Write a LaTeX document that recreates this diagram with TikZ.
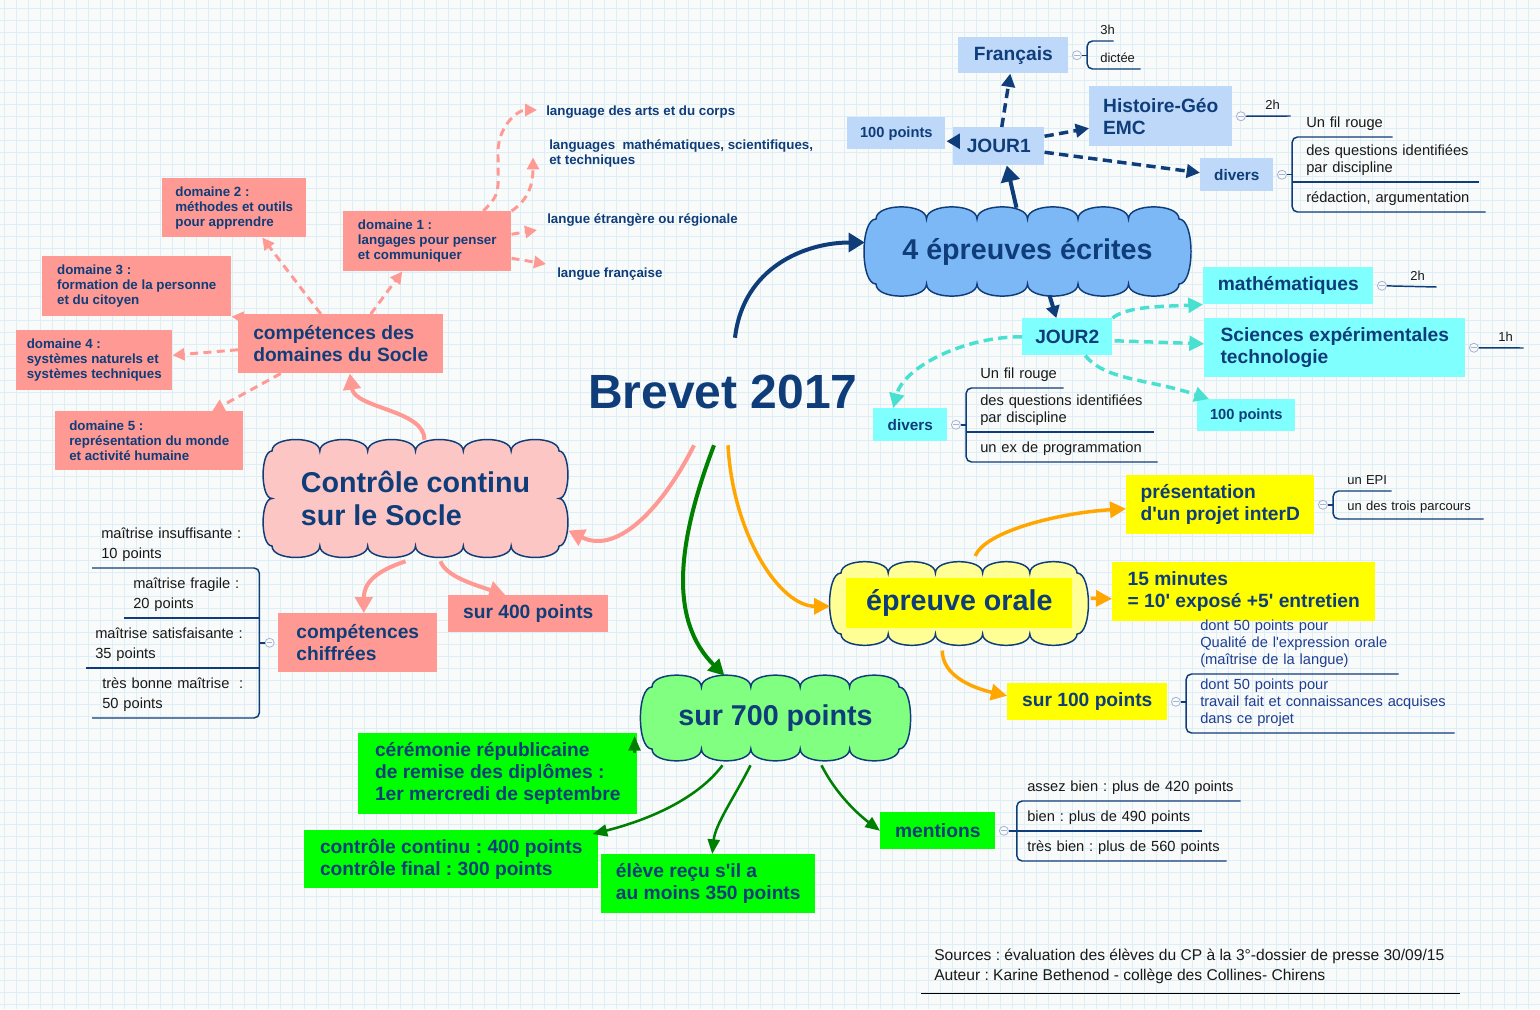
\documentclass[tikz,border=0pt]{standalone}
\usepackage{fontspec}
\setmainfont{Liberation Sans}
\usetikzlibrary{arrows.meta, positioning, calc}

\definecolor{navy}{RGB}{14,61,122}
\definecolor{salc}{RGB}{255,153,148}
\definecolor{pinkc}{RGB}{252,198,196}
\definecolor{lblue}{RGB}{190,216,250}
\definecolor{ecritc}{RGB}{125,184,246}
\definecolor{cyanc}{RGB}{128,255,255}
\definecolor{turqc}{RGB}{72,224,208}
\definecolor{yelc}{RGB}{255,255,0}
\definecolor{paleyel}{RGB}{255,255,150}
\definecolor{grc}{RGB}{0,255,0}
\definecolor{palegr}{RGB}{128,255,128}
\definecolor{dkgreen}{RGB}{0,128,0}
\definecolor{orc}{RGB}{255,166,0}
\definecolor{leafc}{RGB}{25,25,25}
\definecolor{hblue}{RGB}{30,62,145}
\definecolor{circc}{RGB}{165,180,212}
\definecolor{gridc}{RGB}{222,238,246}
\definecolor{bgc}{RGB}{249,250,250}

\frenchspacing
\lefthyphenmin=64

% one unit = one pixel of the sketch
\def\px{*0.75pt}

% scalloped cloud: left, top, right, bottom, bumps across, bumps down, style
\newcommand\cloudshape[7]{%
  \pgfmathsetmacro\cbw{(#3-#1)/#5}%
  \pgfmathsetmacro\cbk{0.32*\cbw}%
  \pgfmathsetmacro\cbh{(#4-#2)/#6}%
  \pgfmathsetmacro\cbe{min(16,0.25*\cbh)}%
  \filldraw[#7] (#1,#2)
    \foreach \ci in {1,...,#5} { .. controls +(0,-\cbk) and +(0,-\cbk) .. ++(\cbw,0) }
    \foreach \ci in {1,...,#6} { .. controls +(\cbe,0) and +(\cbe,0) .. ++(0,\cbh) }
    \foreach \ci in {1,...,#5} { .. controls +(0,\cbk) and +(0,\cbk) .. ++(-\cbw,0) }
    \foreach \ci in {1,...,#6} { .. controls +(-\cbe,0) and +(-\cbe,0) .. ++(0,-\cbh) }
    -- cycle;
}

\tikzset{
  box/.style={anchor=north west, inner sep=0pt, align=left, text=navy},
  bx/.style 2 args={minimum width=#1\px, minimum height=#2\px},
  big/.style={font=\fontsize{14.4}{16.5}\selectfont\bfseries},
  mid/.style={font=\fontsize{11.5}{13}\selectfont\bfseries},
  dom/.style={font=\fontsize{10}{11.25}\selectfont\bfseries},
  cloudtxt/.style={font=\fontsize{21.5}{24.75}\selectfont\bfseries, text=navy, align=left, inner sep=0pt},
  cloudline/.style={draw=navy, line width=1.1pt},
  dleaf/.style={anchor=west, inner sep=0pt, align=left, text=navy, font=\fontsize{10}{11.25}\selectfont\bfseries},
  leaf/.style={anchor=south west, inner xsep=0pt, inner ysep=4.5pt, align=left, text=leafc, font=\fontsize{11}{12.75}\selectfont},
  leafsm/.style={leaf, font=\fontsize{9.75}{11}\selectfont},
  leafi/.style={leaf, font=\fontsize{11}{15}\selectfont},
  leafh/.style={leaf, text=hblue},
  minus/.style={circle, draw=circc, fill=bgc, line width=0.6pt, minimum size=6.75pt, inner sep=0pt,
    path picture={\draw[circc, line width=0.6pt] ([xshift=-2pt]path picture bounding box.center) -- ([xshift=2pt]path picture bounding box.center);}},
  uline/.style={draw=navy, line width=1.1pt},
  navyarr/.style={draw=navy, line width=3pt, -{Triangle[length=12pt,width=14pt]}},
  navydash/.style={draw=navy, line width=2.6pt, dash pattern=on 7pt off 4pt, -{Triangle[length=10pt,width=10pt]}},
  turq/.style={draw=turqc, line width=2.6pt, dash pattern=on 7pt off 4pt, -{Triangle[length=11pt,width=11pt]}},
  salarr/.style={draw=salc, line width=3pt, -{Triangle[length=12pt,width=13pt]}},
  saldash/.style={draw=salc, line width=2.2pt, dash pattern=on 6pt off 4pt, -{Triangle[length=9pt,width=9pt]}},
  grthin/.style={draw=dkgreen, line width=1.9pt, -{Triangle[length=11pt,width=9pt]}},
  grarr/.style={draw=dkgreen, line width=3pt, -{Triangle[length=12pt,width=12pt]}},
  orarr/.style={draw=orc, line width=2.6pt, -{Triangle[length=12pt,width=12pt]}},
}

\begin{document}
\begin{tikzpicture}[x=0.75pt, y=-0.75pt]

  % --- Paper ---
  \fill[bgc] (0,0) rectangle (1540,1009);
  \useasboundingbox (0,0) rectangle (1540,1009);
  \foreach \gx in {4,16,...,1540} \draw[gridc, line width=0.6pt] (\gx,0) -- (\gx,1009);
  \foreach \gy in {8,20,...,1009} \draw[gridc, line width=0.6pt] (0,\gy) -- (1540,\gy);

  % --- Title ---
  \node[font=\fontsize{36}{40}\selectfont\bfseries, text=navy, inner sep=0pt,
        minimum width=280\px, minimum height=107\px] (brevet) at (723,391.5) {Brevet 2017};

  % --- Clouds ---
  \cloudshape{876}{219}{1179}{284}{6}{1}{cloudline, fill=ecritc}
  \node[cloudtxt, minimum width=325\px, minimum height=87\px] (ecrites) at (1027.5,251.5) {4 épreuves écrites};

  \cloudshape{272}{451}{559}{546}{6}{2}{cloudline, fill=pinkc}
  \node[cloudtxt, minimum width=305\px, minimum height=117\px] (controle) at (415.5,498.5) {Contrôle continu\\sur le Socle};

  \cloudshape{841}{573}{1077}{634}{5}{1}{cloudline, fill=paleyel}
  \node[box, bx={226}{50}, fill=yelc, font=\fontsize{21.5}{24.75}\selectfont\bfseries] (orale) at (846,578) {épreuve orale};

  \cloudshape{652}{687}{899}{749}{5}{1}{cloudline, fill=palegr}
  \node[cloudtxt, minimum width=269\px, minimum height=84\px] (s700) at (775.5,718) {sur 700 points};

  % --- JOUR1 ---
  \node[box, bx={110}{36}, fill=lblue, big] (fr) at (958,37) {Français};
  \node[box, bx={143}{60}, fill=lblue, big] (hist) at (1089,86) {Histoire-Géo\\EMC};
  \node[box, bx={91}{38}, fill=lblue, big] (jour1) at (953,127) {JOUR1};
  \node[box, bx={98}{32}, fill=lblue, font=\fontsize{11}{13}\selectfont\bfseries] (cent1) at (847,117) {100 points};
  \node[box, bx={73}{33}, fill=lblue, mid] (div1) at (1200,158) {divers};

  % --- JOUR2 ---
  \node[box, bx={170}{37}, fill=cyanc, big] (math) at (1203,267) {mathématiques};
  \node[box, bx={90}{37}, fill=cyanc, big] (jour2) at (1022,318) {JOUR2};
  \node[box, bx={261}{59}, fill=cyanc, big] (sci) at (1204,318) {Sciences expérimentales\\technologie};
  \node[box, bx={98}{32}, fill=cyanc, font=\fontsize{11}{13}\selectfont\bfseries] (cent2) at (1197,399) {100 points};
  \node[box, bx={74}{33}, fill=cyanc, mid] (div2) at (873,408) {divers};

  % --- Socle ---
  \node[box, bx={144}{59}, fill=salc, dom] (dom2) at (162,178) {domaine 2 :\\méthodes et outils\\pour apprendre};
  \node[box, bx={168}{60}, fill=salc, dom] (dom1) at (343,211) {domaine 1 :\\langages pour penser\\et communiquer};
  \node[box, bx={189}{60}, fill=salc, dom] (dom3) at (42,256) {domaine 3 :\\formation de la personne\\et du citoyen};
  \node[box, bx={156}{60}, fill=salc, dom] (dom4) at (16,330) {domaine 4 :\\systèmes naturels et\\systèmes techniques};
  \node[box, bx={188}{59}, fill=salc, dom] (dom5) at (55,411) {domaine 5 :\\représentation du monde\\et activité humaine};
  \node[box, bx={205}{59}, fill=salc, big] (compdom) at (238,314) {compétences des\\domaines du Socle};
  \node[box, bx={159}{59}, fill=salc, big] (compchif) at (278,613) {compétences\\chiffrées};
  \node[box, bx={160}{37}, fill=salc, big] (s400) at (448,595) {sur 400 points};

  \node[dleaf] (l1) at (546,112) {language des arts et du corps};
  \node[dleaf] (l2) at (549,153.5) {languages \ mathématiques, scientifiques,\\et techniques};
  \node[dleaf] (l3) at (547,220) {langue étrangère ou régionale};
  \node[dleaf] (l4) at (557,274) {langue française};

  % --- Oral ---
  \node[box, bx={188}{59}, fill=yelc, big] (pres) at (1126,475) {présentation\\d\textquotesingle un projet interD};
  \node[box, bx={263}{59}, fill=yelc, big] (min) at (1112,562) {15 minutes\\= 10\textquotesingle{} exposé +5\textquotesingle{} entretien};
  \node[box, bx={160}{37}, fill=yelc, big] (s100) at (1007,683) {sur 100 points};

  % --- 700 points ---
  \node[box, bx={279}{81}, fill=grc, big] (cer) at (358,733) {cérémonie républicaine\\de remise des diplômes :\\1er mercredi de septembre};
  \node[box, bx={294}{58}, fill=grc, big] (ctrl) at (304,830) {contrôle continu : 400 points\\contrôle final : 300 points};
  \node[box, bx={214}{59}, fill=grc, big] (eleve) at (601,854) {élève reçu s\textquotesingle il a\\au moins 350 points};
  \node[box, bx={115}{37}, fill=grc, big] (ment) at (880,812) {mentions};

  % --- Leaves ---
  \node[minus, right=2.6pt of fr] (mfr) {};
  \coordinate[right=4pt of mfr] (bfr);
  \node[leafsm, text width=13\px] (a1) at (1100,41) {3h};
  \node[leafsm, text width=40\px] (a2) at (1100,69) {dictée};
  \draw[uline, rounded corners=4pt] (a1.south east) -- (bfr |- a1.south) -- (bfr |- a2.south) -- (a2.south east);
  \draw[uline] (mfr) -- (bfr);

  \node[minus, right=2.6pt of hist] (mhist) {};
  \node[leafsm, text width=25\px] (b1) at (1265,116) {2h};
  \draw[uline] (mhist) -- (b1.south east);

  \node[minus, right=2.6pt of div1] (mdiv1) {};
  \coordinate[right=4pt of mdiv1] (bdiv1);
  \node[leaf, text width=86\px] (c1) at (1306,137) {Un fil rouge};
  \node[leaf, text width=172\px] (c2) at (1306,182) {des questions identifiées\\par discipline};
  \node[leaf, text width=179\px] (c3) at (1306,212) {rédaction, argumentation};
  \draw[uline, rounded corners=4pt] (c1.south east) -- (bdiv1 |- c1.south) -- (bdiv1 |- c3.south) -- (c3.south east);
  \draw[uline] (bdiv1 |- c2.south) -- (c2.south east);
  \draw[uline] (mdiv1) -- (bdiv1);

  \node[minus, right=2.6pt of math] (mmath) {};
  \node[leafsm, text width=26\px] (d1) at (1410,287) {2h};
  \draw[uline] (mmath) -- (d1.south east);

  \node[minus, right=2.6pt of sci] (msci) {};
  \node[leafsm, text width=25\px] (e1) at (1498,348) {1h};
  \draw[uline] (msci) -- (e1.south east);

  \node[minus, right=2.6pt of div2] (mdiv2) {};
  \coordinate[right=4pt of mdiv2] (bdiv2);
  \node[leaf, text width=83\px] (f1) at (980,388) {Un fil rouge};
  \node[leaf, text width=173\px] (f2) at (980,432) {des questions identifiées\\par discipline};
  \node[leaf, text width=177\px] (f3) at (980,462) {un ex de programmation};
  \draw[uline, rounded corners=4pt] (f1.south east) -- (bdiv2 |- f1.south) -- (bdiv2 |- f3.south) -- (f3.south east);
  \draw[uline] (bdiv2 |- f2.south) -- (f2.south east);
  \draw[uline] (mdiv2) -- (bdiv2);

  \node[minus, right=2.6pt of pres] (mpres) {};
  \coordinate[right=4pt of mpres] (bpres);
  \node[leafsm, text width=44\px] (g1) at (1347,491) {un EPI};
  \node[leafsm, text width=136\px] (g2) at (1347,519) {un des trois parcours};
  \draw[uline, rounded corners=4pt] (g1.south east) -- (bpres |- g1.south) -- (bpres |- g2.south) -- (g2.south east);
  \draw[uline] (mpres) -- (bpres);

  \node[minus, right=2.6pt of s100] (ms100) {};
  \coordinate[right=4pt of ms100] (bs100);
  \node[leafh, text width=198\px] (h1) at (1200,674) {dont 50 points pour\\Qualité de l\textquotesingle expression orale\\(maîtrise de la langue)};
  \node[leafh, text width=254\px] (h2) at (1200,733) {dont 50 points pour\\travail fait et connaissances acquises\\dans ce projet};
  \draw[uline, rounded corners=4pt] (h1.south east) -- (bs100 |- h1.south) -- (bs100 |- h2.south) -- (h2.south east);
  \draw[uline] (ms100) -- (bs100);

  \node[minus, left=2.6pt of compchif] (mchif) {};
  \coordinate[left=4pt of mchif] (bchif);
  \node[leafi, text width=155\px] (i1) at (101,568) {maîtrise insuffisante :\\10 points};
  \node[leafi, text width=123\px] (i2) at (133,618) {maîtrise fragile :\\20 points};
  \node[leafi, text width=161\px] (i3) at (95,668) {maîtrise satisfaisante :\\35 points};
  \node[leafi, text width=154\px] (i4) at (102,718) {très bonne maîtrise \ :\\50 points};
  \draw[uline, rounded corners=4pt] ($(i1.south west)+(-9,0)$) -- (bchif |- i1.south) -- (bchif |- i4.south) -- ($(i4.south west)+(-10,0)$);
  \draw[uline] ($(i2.south west)+(-9,0)$) -- (bchif |- i2.south);
  \draw[uline] ($(i3.south west)+(-9,0)$) -- (bchif |- i3.south);
  \draw[uline] (mchif) -- (bchif);

  \node[minus, right=2.6pt of ment] (mment) {};
  \coordinate[right=6pt of mment] (bment);
  \node[leaf, text width=213\px] (j1) at (1027,801) {assez bien : plus de 420 points};
  \node[leaf, text width=174\px] (j2) at (1027,831) {bien : plus de 490 points};
  \node[leaf, text width=199\px] (j3) at (1027,861) {très bien : plus de 560 points};
  \draw[uline, rounded corners=4pt] (j1.south east) -- (bment |- j1.south) -- (bment |- j3.south) -- (j3.south east);
  \draw[uline] (bment |- j2.south) -- (j2.south east);
  \draw[uline] (mment) -- (bment);

  % --- Sources ---
  \node[anchor=north west, inner sep=0pt, align=left, text=leafc, font=\fontsize{11.7}{15}\selectfont] (src) at (934,949)
    {Sources : évaluation des élèves du CP à la 3°-dossier de presse 30/09/15\\Auteur : Karine Bethenod - collège des Collines- Chirens};
  \draw[black, line width=0.75pt] ($(src.south west)+(-13,9)$) -- ++(539,0);

  % --- Edges from the title ---
  \draw[navyarr] ($(brevet.north)+(12,0)$) .. controls +(8,-70) and +(-60,0) .. ($(ecrites.west)+(0,-9)$);
  \draw[salarr] ($(brevet.south)+(-29,0)$) .. controls +(-30,60) and +(50,25) .. ($(controle.east)+(0,32)$);
  \draw[grarr] ($(brevet.south)+(-9,0)$) .. controls +(-38,100) and +(-55,-55) .. ($(s700.north)+(-51,0)$);
  \draw[orarr] ($(brevet.south)+(5,0)$) .. controls +(5,90) and +(-50,0) .. ($(orale.west)+(-16,3)$);

  % --- Written exams ---
  \draw[navyarr] ($(ecrites.north)+(-11,0)$) -- ($(jour1.south)+(8,0)$);
  \draw[navyarr, -{Triangle[length=9pt,width=10pt]}] ($(ecrites.south)+(22,0)$) -- ($(jour2.north)+(-11,0)$);
  \draw[navydash] ($(jour1.north)+(3,0)$) -- ($(fr.south)+(-3,0)$);
  \draw[navydash] ($(jour1.east)+(0,-10)$) -- ($(hist.west)+(0,12)$);
  \draw[navydash] ($(jour1.east)+(0,6)$) -- ($(div1.west)+(0,-2)$);
  \draw[navyarr, -{Triangle[length=10pt,width=11pt]}] ($(jour1.west)+(7,-5)$) -- ($(cent1.east)+(1,8)$);

  \draw[turq] (jour2.north east) .. controls +(15,-12) and +(-40,2) .. (math.south west);
  \draw[turq] ($(jour2.east)+(2,4)$) -- ($(sci.west)+(0,-4)$);
  \draw[turq] ($(jour2.south)+(18,0)$) .. controls +(20,25) and +(-60,-20) .. ($(cent2.north west)+(12,0)$);
  \draw[turq] (jour2.west) .. controls +(-60,0) and +(10,-40) .. ($(div2.north)+(-17,0)$);

  % --- Socle ---
  \draw[salarr] ($(controle.north)+(9,0)$) .. controls +(0,-30) and +(5,35) .. ($(compdom.south)+(9,0)$);
  \draw[salarr] ($(controle.south)+(-10,4)$) .. controls +(-30,10) and +(0,-30) .. ($(compchif.north)+(6,0)$);
  \draw[salarr] ($(controle.south)+(25,4)$) .. controls +(5,15) and +(-30,-10) .. ($(s400.north)+(-23,0)$);

  \draw[saldash] ($(compdom.north)+(-20,0)$) -- ($(dom2.south)+(28,0)$);
  \draw[saldash] ($(compdom.north)+(30,0)$) -- ($(dom1.south)+(-25,0)$);
  \draw[saldash] ($(compdom.north west)+(8,4)$) -- (dom3.south east);
  \draw[saldash] ($(compdom.west)+(0,6)$) -- ($(dom4.east)+(0,-5)$);
  \draw[saldash] ($(compdom.south)+(-60,0)$) -- ($(dom5.north)+(63,0)$);

  \draw[saldash] ($(dom1.north)+(56,0)$) .. controls +(18,-18) and +(0,40) .. ($(l1.west)+(-48,40)$)
    .. controls +(0,-25) and +(-20,0) .. ($(l1.west)+(-9,-2)$);
  \draw[saldash] (dom1.north east) .. controls +(18,-12) and +(0,25) .. ($(l2.west)+(-16,4)$);
  \draw[saldash] ($(dom1.east)+(0,-7)$) -- ($(l3.west)+(-10,10)$);
  \draw[saldash] ($(dom1.east)+(0,17)$) -- ($(l4.west)+(-11,-10)$);

  % --- 700 points ---
  \draw[grthin] ($(cer.north east)+(-3,20)$) -- ($(cer.north east)+(-3,3)$);
  \draw[grthin] ($(s700.south)+(-53,5)$) .. controls +(-30,40) and +(40,-10) .. ($(ctrl.north east)+(-6,4)$);
  \draw[grthin] ($(s700.south)+(-25,5)$) .. controls +(-15,30) and +(3,-30) .. ($(eleve.north)+(4,0)$);
  \draw[grthin] ($(s700.south)+(46,5)$) .. controls +(15,30) and +(-20,-15) .. (ment.west);

  % --- Oral ---
  \draw[orarr] ($(orale.north)+(16,-22)$) .. controls +(10,-25) and +(-66,4) .. ($(pres.west)+(0,4)$);
  \draw[orarr] ($(orale.east)+(18,-5)$) -- ($(min.west)+(0,7)$);
  \draw[orarr] ($(orale.south)+(-17,22)$) .. controls +(0,25) and +(-35,-8) .. ($(s100.west)+(0,-6)$);

\end{tikzpicture}
\end{document}
